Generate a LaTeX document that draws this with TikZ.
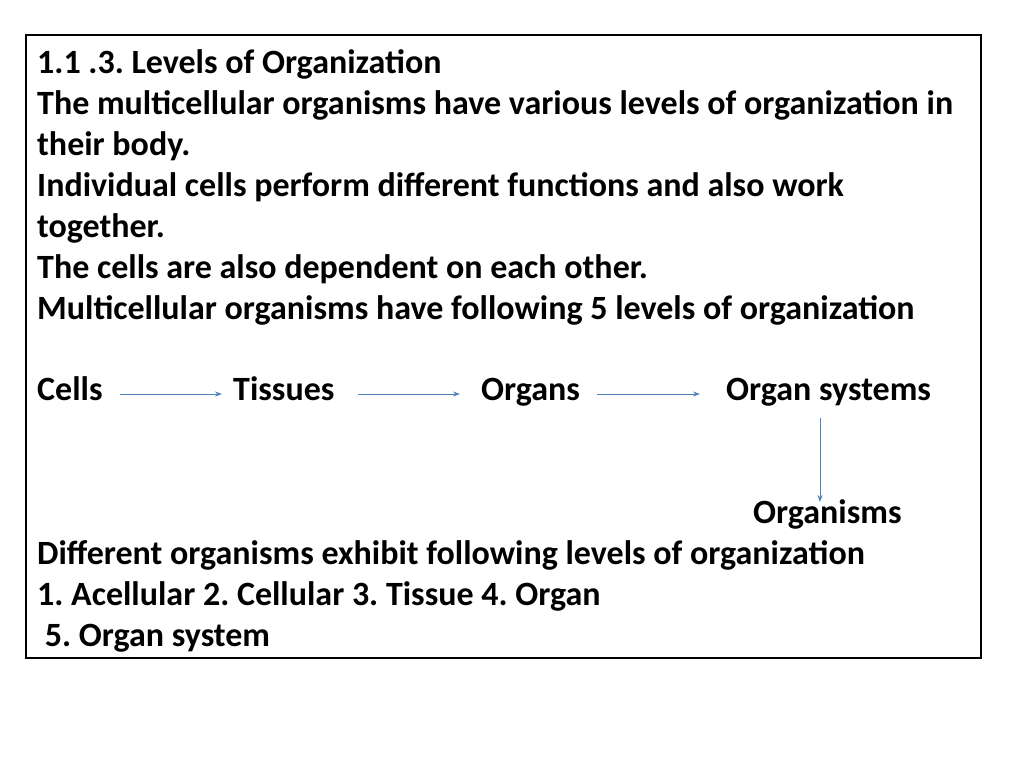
\documentclass[tikz,border=0pt]{standalone}
\usepackage{fontspec}
\setmainfont{Carlito}
\usetikzlibrary{arrows.meta}
\frenchspacing
\begin{document}
\begin{tikzpicture}[x=1pt,y=-1pt,
  t/.style={anchor=base west,inner sep=0pt,font=\fontsize{34}{40}\selectfont\bfseries},
  arr/.style={draw={rgb,255:red,79;green,129;blue,189},line width=0.8pt,-{Stealth[length=7pt,width=5pt]}}]
\useasboundingbox (0,0) rectangle (1024,768);
\draw[line width=2.5pt] (26,35) rectangle (981,658);
\node[t] (l1) at (37,73) {1.1 .3. Levels of Organization};
\node[t] (l2) at (37,114) {The multicellular organisms have various levels of organization in};
\node[t] (l3) at (37,155) {their body.};
\node[t] (l4) at (37,196) {Individual cells perform different functions and also work};
\node[t] (l5) at (37,237) {together.};
\node[t] (l6) at (37,278) {The cells are also dependent on each other.};
\node[t] (l7) at (37,319) {Multicellular organisms have following 5 levels of organization};
\node[t] (cells) at (37,400) {Cells};
\node[t] (tissues) at (233,400) {Tissues};
\node[t] (organs) at (481,400) {Organs};
\node[t] (osys) at (726,400) {Organ systems};
\node[t] (orgm) at (753,523) {Organisms};
\node[t] (l8) at (37,564) {Different organisms exhibit following levels of organization};
\node[t] (l9) at (37,605) {1. Acellular 2. Cellular 3. Tissue 4. Organ};
\node[t] (l10) at (37,646) {\ 5. Organ system};
\coordinate (a1) at (120,394); \coordinate (b1) at (222,394);
\coordinate (a2) at (358,394); \coordinate (b2) at (460,394);
\coordinate (a3) at (597,394); \coordinate (b3) at (700,394);
\coordinate (a4) at (820,418); \coordinate (b4) at (820,502);
\draw[arr] (a1) -- (b1);
\draw[arr] (a2) -- (b2);
\draw[arr] (a3) -- (b3);
\draw[arr] (a4) -- (b4);
\end{tikzpicture}
\end{document}
